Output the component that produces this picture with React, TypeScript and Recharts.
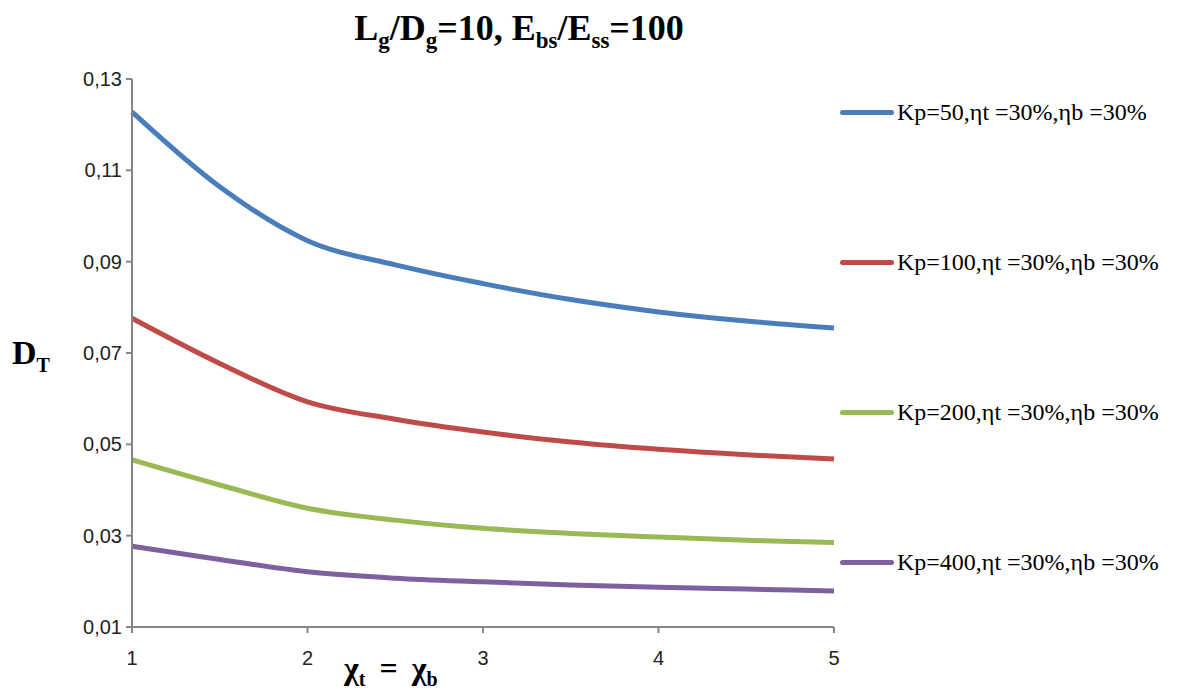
import React from "react";
import { LineChart, Line, XAxis, YAxis } from "recharts";

const chiValues = [1, 1.5, 2, 2.5, 3, 3.5, 4, 4.5, 5];
const kp50 = [0.1228, 0.1064, 0.0946, 0.0893, 0.0852, 0.0817, 0.079, 0.077, 0.0755];
const kp100 = [0.0776, 0.0677, 0.0593, 0.0555, 0.0527, 0.0505, 0.0489, 0.0477, 0.0468];
const kp200 = [0.0466, 0.0411, 0.036, 0.0334, 0.0316, 0.0305, 0.0297, 0.029, 0.0285];
const kp400 = [0.0277, 0.0248, 0.0221, 0.0207, 0.0199, 0.0192, 0.0187, 0.0183, 0.0179];
const xTicks = [1, 2, 3, 4, 5];
const yTicks = [0.01, 0.03, 0.05, 0.07, 0.09, 0.11, 0.13];

const seriesNames = [
  "Kp=50,ηt =30%,ηb =30%",
  "Kp=100,ηt =30%,ηb =30%",
  "Kp=200,ηt =30%,ηb =30%",
  "Kp=400,ηt =30%,ηb =30%",
];
const colors = ["#4A7EBB", "#BE4B48", "#98B954", "#7D60A0"];

const data = chiValues.map((x, i) => ({
  x,
  s0: kp50[i],
  s1: kp100[i],
  s2: kp200[i],
  s3: kp400[i],
}));

const fmt = (v: number) => v.toFixed(2).replace(".", ",");

function LegendBox() {
  return (
    <div style={{ position: "absolute", left: 840, top: 100, width: 360, height: 500 }}>
      {seriesNames.map((name, i) => (
        <div
          key={name}
          style={{
            position: "absolute",
            left: 0,
            top: i * 150.3,
            display: "flex",
            alignItems: "center",
            height: 24,
          }}
        >
          <div
            style={{
              width: 54,
              height: 5,
              borderRadius: 3,
              background: colors[i],
              marginRight: 3,
            }}
          />
          <span
            style={{
              fontFamily: "'Liberation Serif', serif",
              fontSize: 24,
              color: "#000",
              whiteSpace: "nowrap",
            }}
          >
            {name}
          </span>
        </div>
      ))}
    </div>
  );
}

export default function App() {
  const serif = "'Liberation Serif', serif";
  return (
    <div style={{ position: "relative", width: 1199, height: 692, background: "#fff" }}>
      <style>{`body{margin:0}`}</style>
      <div
        style={{
          position: "absolute",
          left: 0,
          width: 1038,
          top: 7,
          textAlign: "center",
          fontFamily: serif,
          fontWeight: "bold",
          fontSize: 36,
          color: "#000",
        }}
      >
        L<sub style={{ fontSize: 23 }}>g</sub>/D<sub style={{ fontSize: 23 }}>g</sub>=10, E
        <sub style={{ fontSize: 23 }}>bs</sub>/E<sub style={{ fontSize: 23 }}>ss</sub>=100
      </div>
      <div
        style={{
          position: "absolute",
          left: 12,
          top: 334,
          fontFamily: serif,
          fontWeight: "bold",
          fontSize: 34,
          color: "#000",
        }}
      >
        D<sub style={{ fontSize: 20 }}>T</sub>
      </div>
      <div
        style={{
          position: "absolute",
          left: 344,
          top: 650,
          fontFamily: serif,
          fontWeight: "bold",
          fontSize: 32,
          color: "#000",
          whiteSpace: "pre",
        }}
      >
        χ<sub style={{ fontSize: 20 }}>t</sub>
        <span style={{ margin: "0 14px" }}>=</span>χ<sub style={{ fontSize: 20 }}>b</sub>
      </div>
      <LineChart
        width={1199}
        height={692}
        data={data}
        margin={{ top: 79, right: 365, bottom: 35, left: 0 }}
      >
        <XAxis
          dataKey="x"
          type="number"
          domain={[1, 5]}
          ticks={xTicks}
          height={30}
          stroke="#868686"
          strokeWidth={2}
          tickSize={6}
          tickMargin={18}
          tick={{ fill: "#222", fontSize: 20, fontFamily: "'Liberation Sans', sans-serif" }}
        />
        <YAxis
          type="number"
          domain={[0.01, 0.13]}
          ticks={yTicks}
          tickFormatter={fmt}
          width={132}
          stroke="#868686"
          strokeWidth={2}
          tickSize={6}
          tickMargin={4}
          tick={{ fill: "#222", fontSize: 20, fontFamily: "'Liberation Sans', sans-serif" }}
        />
        {["s0", "s1", "s2", "s3"].map((k, i) => (
          <Line
            key={k}
            type="monotone"
            dataKey={k}
            name={seriesNames[i]}
            stroke={colors[i]}
            strokeWidth={5}
            dot={false}
            isAnimationActive={false}
          />
        ))}
      </LineChart>
      <LegendBox />
    </div>
  );
}
